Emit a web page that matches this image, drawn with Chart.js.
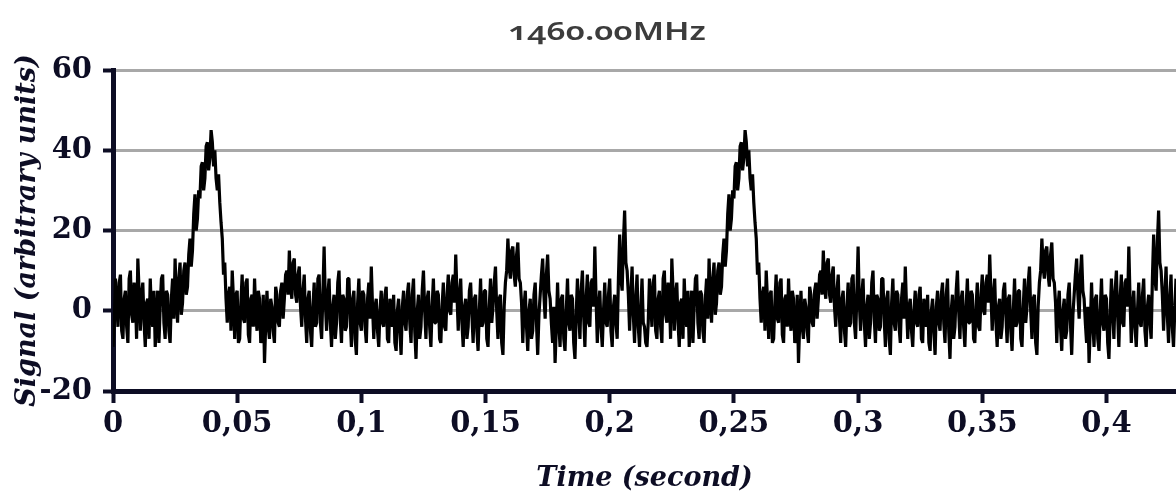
<!DOCTYPE html>
<html lang="en">
<head>
    <meta charset="UTF-8">
    <title>1460.00MHz</title>
    <script src="https://cdn.jsdelivr.net/npm/chart.js@4.4.0/dist/chart.umd.min.js"></script>
    <style>
        html, body {
            margin: 0;
            padding: 0;
            background: #fff;
        }

        .wrap {
            position: relative;
            width: 1176px;
            height: 497px;
            overflow: hidden;
        }

        .freq {
            position: absolute;
            top: 18px;
            left: 607px;
            margin: 0;
            font-family: 'Noto Sans', sans-serif;
            font-weight: 600;
            font-size: 25px;
            line-height: 1;
            color: #3c3c3c;
            font-variant-numeric: oldstyle-nums;
            white-space: nowrap;
            transform: translateX(-50%) scaleX(1.35);
        }
    </style>
</head>
<body>
<div class="wrap">
    <canvas id="pulseChart"></canvas>
    <h1 class="freq">1460.00MHz</h1>
</div>

<script>
    // one pulse period, 0.5 ms per sample
    const pulseProfile = [
        -9, -3, 8, 2, -4, 7, 9, -5, -7, 3, 5, -4, -8, 8, 10, -1, -3, 7, 4, -7, 13, 5,
        -5, 4, 7, -3, -9, 2, 3, -7, 8, -1, -4, 5, -9, -2, 5, -8, 1, 8, 9, -3, -7, 5, 4, -5, -8, 3, 8, -2,
        13, 3, -3, 8, 12, -1, 2, 10, 12, 4, 6, 14,
        // main pulse
        18, 11, 15, 24, 29, 20, 23, 30, 28, 36, 37, 30, 33, 41, 42, 35,
        38, 45, 42, 36, 40, 33, 30, 34, 27, 22, 18, 9, 12, 3, -3, 4,
        6, -5, 10, 3, -7, 4, 5, -8, -7, 2, 9, -2, -3, 7, 8, -6,
        -8, 3, 4, -4, 8, -1, -5, 5, 3, -8, -7, 4, -13, -3, 5, -4,
        -7, 3, 1, -5, -8, 6, 4, -3, -4, 5, 7, -2, 3, 9, 10, 4,
        15, 6, 3, 12, 13, 4, 2, 9, 11, 1,
        -4, 5, 9, -2, -8, 3, 5, -5, -9, 1, 7, -4, -3, 8, 9, -3, -7, 4,
        16, 2,
        -5, 4, 8, -3, -9, 1, 4, -7, -3, 7, 10, -2, -8, 4, 3, -5, -4, 8, 8, -2, -9, 3, 5, -7, -11, 2,
        8, -3, -5, 5, 4, -4, -8, 3, 7, -2, 11, 1,
        -7, 1, 3, -5, -9, 0, 5, -3, -4, 4, 6, -7, -8, 3, 1, -4, 4, -8, -10, 0, 3, -5, -11, 1, 5, -3, -5, 4,
        7, -3, -8, 4, 8, -5, -12, 0, 4, -7, -4, 5, 10, 0,
        -7, 3, 5, -4, -9, 1, 8, -3, -3, 5, 4, -7, -8, 1, 7, -4, -5, 4, 9, 0, -1, 7,
        9, 2, 14, 4,
        -5, 4, 8, -3, -9, 1, 3, -7, -4, 5,
        7, -1, -8, 3, 4, -5, -10, 0, 8, -4, -3, 5, 5, -7, -9, 1, 8, -3, 1, 7, 11, 0, -7, 3, 4, -8, -11, 1, 7, 10,
        18, 11, 8, 15, 16, 9, 6, 14, 17, 8, 7, 2,
        -8, 1, 5, -4, -10, 0, 3, -7, -5, 4, 7, -3, -11, -1, 4, 9,
        13, 4, -2, 9, 14, 5, 3, -3,
        -8, 1, -13, -4, 7, -3, -9, 3, 4, -7, -10, 0, 8, -3, -5, 4, 3, -8, -12, -1, 8, 0,
        -7, 5, 10, -1, -9, 3, 9, -3, -4, 7, 8, 1, 16, 3,
        -8, 1, 5, -4, -9, 0, 7, -3, -4, 4, 8, -5, -9, 1, 4, -3, -7, 8,
        19, 8, 5, 17, 25, 12, 10, 4,
        -5, 4, 11, -1, -8, 3, 9, -4, -9, 0, 8, -3, -4, -8
    ];
    // the plot shows the folded profile twice
    const signal = pulseProfile.concat(pulseProfile);
    const sampleStep = 0.0005; // seconds
    const times = signal.map((v, i) => +(i * sampleStep).toFixed(4));

    const xTicks = [0, 0.05, 0.1, 0.15, 0.2, 0.25, 0.3, 0.35, 0.4];
    const yTicks = [-20, 0, 20, 40, 60];

    const ink = '#0d0d24';
    const tickFont = {family: "'DejaVu Serif', serif", size: 29, weight: 'bold'};
    const titleFont = {family: "'DejaVu Serif', serif", size: 27, weight: 'bold', style: 'italic'};

    const ctx = document.getElementById('pulseChart').getContext('2d');
    const pulseChart = new Chart(ctx, {
        type: 'line',
        data: {
            datasets: [{
                data: times.map((t, i) => ({x: t, y: signal[i]})),
                borderColor: '#000',
                borderWidth: 3.2,
                borderJoinStyle: 'bevel',
                pointRadius: 0,
                tension: 0,
                fill: false
            }]
        },
        options: {
            responsive: true,
            maintainAspectRatio: false,
            animation: false,
            layout: {
                padding: {top: 70, right: 0, bottom: 0, left: 0}
            },
            plugins: {
                legend: {display: false},
                tooltip: {enabled: false}
            },
            scales: {
                x: {
                    type: 'linear',
                    min: 0,
                    max: 0.428,
                    afterFit: s => { s.height = 106; },
                    afterBuildTicks: s => { s.ticks = xTicks.map(v => ({value: v})); },
                    ticks: {
                        color: ink,
                        font: tickFont,
                        padding: 4,
                        maxRotation: 0,
                        autoSkip: false,
                        callback: v => String(Math.round(v * 100) / 100).replace('.', ',')
                    },
                    grid: {
                        drawOnChartArea: false,
                        color: ink,
                        tickColor: ink,
                        tickWidth: 4,
                        tickLength: 12
                    },
                    border: {color: ink, width: 5},
                    title: {
                        display: true,
                        text: 'Time (second)',
                        color: ink,
                        font: titleFont,
                        padding: {top: 0, bottom: 2}
                    }
                },
                y: {
                    min: -20,
                    max: 60,
                    afterFit: s => { s.width = 113; },
                    afterBuildTicks: s => { s.ticks = yTicks.map(v => ({value: v})); },
                    ticks: {
                        color: ink,
                        font: tickFont,
                        padding: 11
                    },
                    grid: {
                        color: c => c.tick && c.tick.value === -20 ? 'rgba(0,0,0,0)' : '#a8a8a8',
                        lineWidth: 3,
                        tickColor: ink,
                        tickWidth: 4,
                        tickLength: 10
                    },
                    border: {color: ink, width: 5},
                    title: {
                        display: true,
                        text: 'Signal (arbitrary units)',
                        color: ink,
                        font: titleFont,
                        padding: {top: 12, bottom: 0}
                    }
                }
            }
        }
    });
</script>
</body>
</html>
